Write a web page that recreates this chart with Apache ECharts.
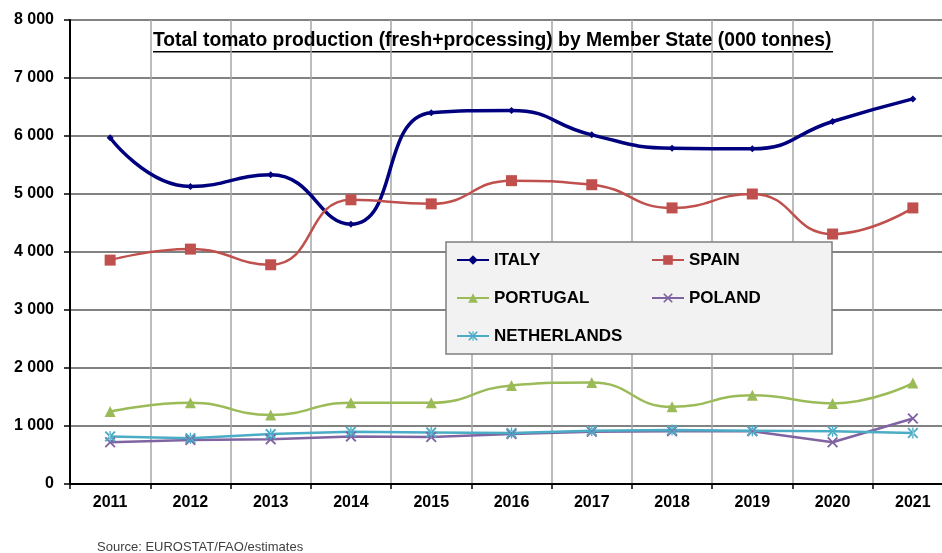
<!DOCTYPE html>
<html>
<head>
<meta charset="utf-8">
<script src="https://cdn.jsdelivr.net/npm/echarts@6.0.0/dist/echarts.min.js"></script>
<style>html,body{margin:0;padding:0;background:#fff}#c{width:942px;height:553px}</style>
</head>
<body>
<div id="c"></div>
<script>
const years = ['2011','2012','2013','2014','2015','2016','2017','2018','2019','2020','2021'];
const italy       = [5970, 5130, 5330, 4480, 6400, 6440, 6020, 5790, 5780, 6250, 6640];
const spain       = [3860, 4050, 3780, 4900, 4830, 5230, 5160, 4760, 5000, 4310, 4760];
const portugal    = [1250, 1400, 1190, 1400, 1400, 1700, 1750, 1330, 1530, 1390, 1740];
const poland      = [720, 760, 770, 820, 810, 860, 900, 910, 910, 720, 1130];
const netherlands = [820, 790, 860, 900, 890, 880, 920, 930, 920, 910, 880];
const yTicks = [0, 1000, 2000, 3000, 4000, 5000, 6000, 7000, 8000];
const titleText = 'Total tomato production (fresh+processing) by Member State (000 tonnes)';
const sourceText = 'Source: EUROSTAT/FAO/estimates';

const FONT = '"Liberation Sans", Arial, sans-serif';
const xSym = 'path://M0,0.12 L0.12,0 L0.5,0.38 L0.88,0 L1,0.12 L0.62,0.5 L1,0.88 L0.88,1 L0.5,0.62 L0.12,1 L0,0.88 L0.38,0.5 Z';
const starSym = 'path://M0,0.12 L0.12,0 L0.5,0.38 L0.88,0 L1,0.12 L0.62,0.5 L1,0.88 L0.88,1 L0.5,0.62 L0.12,1 L0,0.88 L0.38,0.5 Z M0.44,0 L0.44,1 L0.56,1 L0.56,0 Z';

function mk(name, data, color, symbol, size, width, smooth) {
  return {
    name, type: 'line', data, smooth: smooth ? 0.5 : false,
    symbol, symbolSize: size, showSymbol: true,
    lineStyle: { color, width },
    itemStyle: { color },
    emphasis: { disabled: true },
    animation: false
  };
}

const chart = echarts.init(document.getElementById('c'), null, { renderer: 'canvas' });
chart.setOption({
  animation: false,
  backgroundColor: '#ffffff',
  title: [
    { text: titleText, left: 153, top: 31,
      textStyle: { fontFamily: FONT, fontSize: 19.3, fontWeight: 'bold', color: '#000' }, padding: 0 },
    { text: sourceText, left: 97, top: 541,
      textStyle: { fontFamily: FONT, fontSize: 13, fontWeight: 'normal', color: '#404040' }, padding: 0 }
  ],
  graphic: [
    { type: 'rect', left: 153, top: 51, shape: { width: 680, height: 1.5 }, style: { fill: '#000' }, silent: true }
  ],
  grid: { left: 70, top: 20, width: 883, height: 464, containLabel: false, outerBoundsMode: 'none' },
  legend: {
    left: 446, top: 242, width: 380,
    orient: 'horizontal',
    backgroundColor: '#F2F2F2', borderColor: '#7f7f7f', borderWidth: 1.5, borderRadius: 0,
    padding: [4, 10, 4, 10],
    itemGap: 10, itemWidth: 32, itemHeight: 12,
    textStyle: { fontFamily: FONT, fontSize: 17, fontWeight: 'bold', color: '#000', lineHeight: 28, height: 28 },
    data: [
      { name: 'ITALY', textStyle: { width: 147 } },
      { name: 'SPAIN', textStyle: { width: 133 } },
      { name: 'PORTUGAL', textStyle: { width: 147 } },
      { name: 'POLAND', textStyle: { width: 133 } },
      { name: 'NETHERLANDS', textStyle: { width: 147 } }
    ]
  },
  xAxis: {
    type: 'category', data: years, boundaryGap: true,
    axisLine: { lineStyle: { color: '#000', width: 2 } },
    axisTick: { show: true, length: 5, lineStyle: { color: '#000', width: 1.5 } },
    axisLabel: { fontFamily: FONT, fontSize: 16, fontWeight: 'bold', color: '#000', margin: 11 },
    splitLine: { show: true, lineStyle: { color: '#a6a6a6', width: 1.5 } }
  },
  yAxis: {
    type: 'value', min: yTicks[0], max: yTicks[yTicks.length - 1], interval: 1000,
    axisLine: { show: true, lineStyle: { color: '#000', width: 2 } },
    axisTick: { show: true, length: 6, lineStyle: { color: '#000', width: 1.5 } },
    axisLabel: { fontFamily: FONT, fontSize: 16, fontWeight: 'bold', color: '#000', margin: 16,
      formatter: v => v === 0 ? '0' : (v / 1000) + ' 000' },
    splitLine: { show: true, lineStyle: { color: '#595959', width: 1.5 } }
  },
  series: [
    mk('ITALY', italy, '#00007F', 'diamond', 7, 3.5, true),
    mk('SPAIN', spain, '#C0504D', 'rect', 11, 2.5, true),
    mk('PORTUGAL', portugal, '#9BBB59', 'triangle', 11, 2.5, true),
    mk('POLAND', poland, '#8064A2', xSym, 11, 2.5, false),
    mk('NETHERLANDS', netherlands, '#4BACC6', starSym, 11, 2.5, false)
  ]
});
</script>
</body>
</html>
